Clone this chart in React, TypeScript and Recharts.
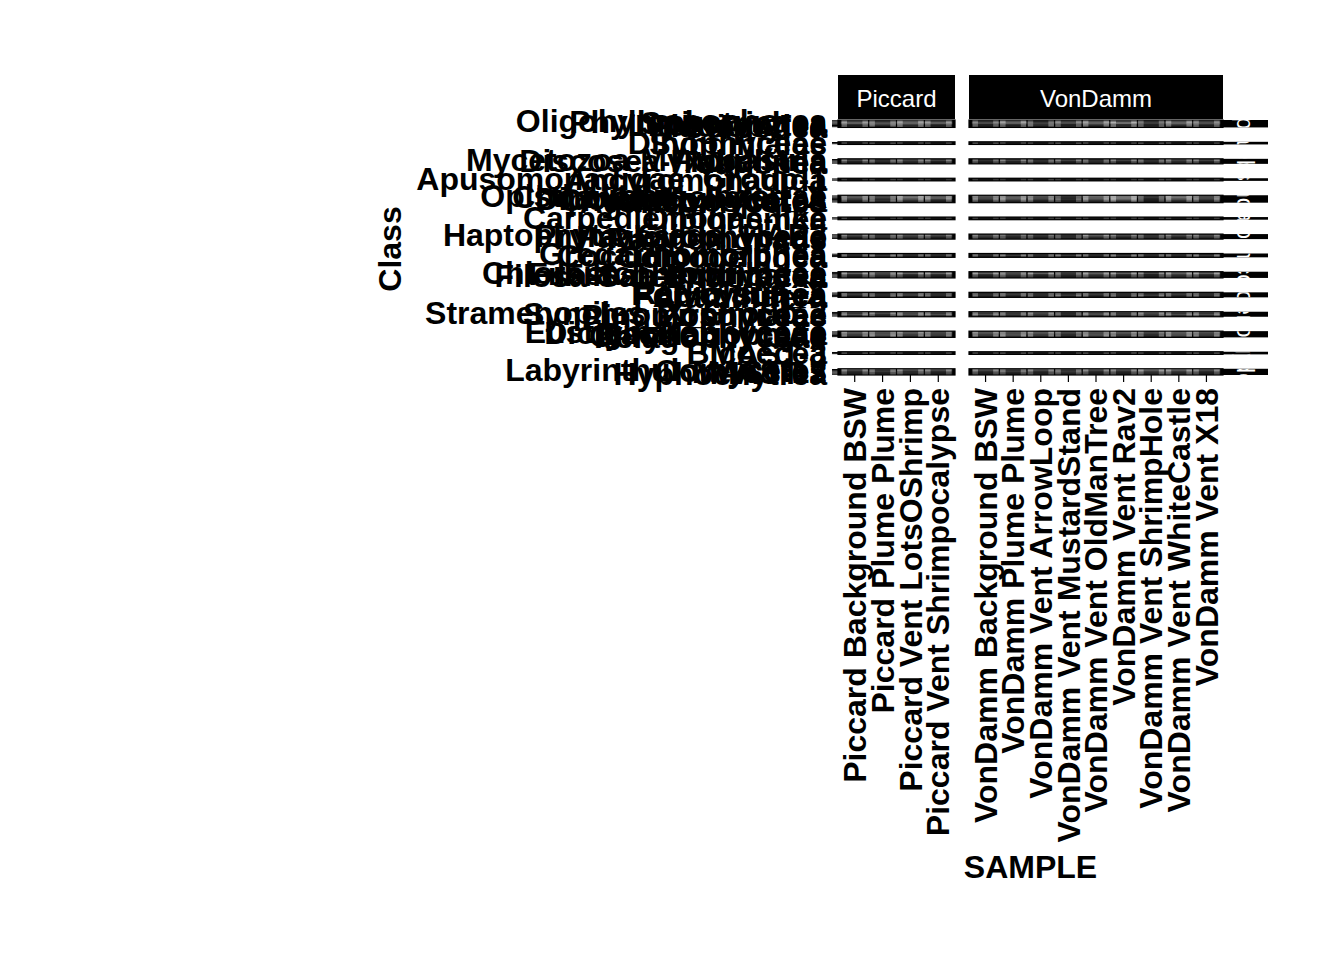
import React from "react";
import { ScatterChart, Scatter, XAxis, YAxis, ReferenceArea } from "recharts";

// facet rows (right strip labels) and the classes inside each of them
const SUPERGROUPS = [
  "Ciliophora",
  "Dinoflagellata",
  "Amoebozoa",
  "Apusozoa",
  "Opisthokonta",
  "Excavata",
  "Haptophyta",
  "Apicomplexa",
  "Cercozoa",
  "Radiolaria",
  "Stramenopiles",
  "Ochrophyta",
  "Bigyra",
  "Pseudofungi",
];

const CLASSES: string[][] = [
  ["Oligohymenophorea", "Phyllopharyngea", "Spirotrichea", "Litostomatea", "Plagiopylea", "Colpodea"],
  ["Dinophyceae", "Syndiniales"],
  ["Mycetozoa-Myxogastria", "Discosea-Flabellinia", "Tubulinea", "Variosea"],
  ["Apusomonadidae_Group-1", "Ancyromonadida"],
  ["Opisthokonta_Incertae", "Choanoflagellatea_X", "Dipodascomycetes", "Chytridiomycetes", "Ichthyosporea", "Agaricomycetes"],
  ["Carpediemonas-like", "Diplonemea"],
  ["Haptophyta_Clade_HAP3", "Prymnesiophyceae", "Pavlovophyceae", "Rappemonads"],
  ["Gregarinomorphea", "Coccidiomorphea", "Colpodellidea"],
  ["Chlorarachniophyceae", "Filosa-Thecofilosea", "Filosa-Imbricatea", "Filosa-Sarcomonadea", "Endomyxa"],
  ["Radiolaria_X", "Polycystinea", "Acantharea", "Foraminifera"],
  ["Stramenopiles_X_Group-2", "Synchromophyceae", "Pirsoniales", "Pinguiophyceae"],
  ["Eustigmatophyceae", "Dictyochophyceae", "Bacillariophyta", "Chrysophyceae", "Pelagophyceae"],
  ["Bicoecea", "MAST-3"],
  ["Labyrinthulomycetes", "Oomycetes", "MAST-12", "MAST-7", "Hyphochytrea"],
];

const PICCARD_SAMPLES = [
  "Piccard Background BSW",
  "Piccard Plume Plume",
  "Piccard Vent LotsOShrimp",
  "Piccard Vent Shrimpocalypse",
];

const VONDAMM_SAMPLES = [
  "VonDamm Background BSW",
  "VonDamm Plume Plume",
  "VonDamm Vent ArrowLoop",
  "VonDamm Vent MustardStand",
  "VonDamm Vent OldManTree",
  "VonDamm Vent Rav2",
  "VonDamm Vent ShrimpHole",
  "VonDamm Vent WhiteCastle",
  "VonDamm Vent X18",
];

// relative abundance level 0-9, one row per class in CLASSES order
const PICCARD_VALUES: number[][] = [
  [7, 6, 8, 7], [5, 4, 6, 5], [8, 7, 8, 8], [4, 5, 5, 4], [2, 3, 3, 2], [3, 2, 4, 3],
  [2, 1, 2, 1], [1, 2, 1, 1],
  [4, 3, 5, 4], [5, 4, 5, 5], [3, 4, 4, 3], [2, 2, 3, 2],
  [1, 1, 2, 1], [1, 2, 1, 1],
  [6, 5, 7, 6], [7, 6, 8, 7], [5, 4, 6, 6], [4, 3, 5, 4], [3, 4, 4, 3], [2, 3, 3, 2],
  [1, 1, 2, 1], [2, 1, 1, 1],
  [5, 4, 6, 5], [6, 5, 6, 6], [3, 4, 4, 3], [2, 2, 3, 2],
  [4, 3, 4, 4], [3, 4, 3, 3], [2, 3, 2, 2],
  [5, 6, 5, 5], [6, 5, 6, 6], [4, 5, 4, 4], [3, 4, 3, 3], [2, 3, 2, 2],
  [4, 3, 4, 4], [5, 4, 5, 4], [3, 3, 4, 3], [2, 3, 2, 2],
  [5, 5, 6, 5], [4, 5, 5, 4], [6, 4, 6, 6], [3, 3, 4, 3],
  [6, 7, 6, 6], [7, 6, 7, 6], [5, 6, 5, 5], [4, 5, 4, 4], [3, 4, 3, 3],
  [1, 2, 1, 1], [2, 1, 1, 1],
  [6, 5, 6, 6], [5, 4, 5, 5], [4, 5, 4, 4], [3, 3, 4, 3], [2, 3, 2, 2],
];

const VONDAMM_VALUES: number[][] = [
  [6, 7, 5, 6, 7, 8, 5, 7, 6], [4, 6, 3, 5, 6, 5, 4, 6, 5], [7, 8, 6, 7, 8, 9, 6, 8, 7],
  [3, 4, 4, 3, 5, 4, 3, 5, 4], [2, 2, 3, 2, 3, 3, 2, 3, 2], [2, 3, 2, 3, 2, 4, 3, 2, 3],
  [1, 2, 1, 1, 2, 1, 1, 2, 1], [2, 1, 1, 2, 1, 1, 2, 1, 1],
  [3, 4, 3, 4, 3, 4, 3, 5, 4], [4, 5, 4, 5, 4, 5, 4, 5, 5], [3, 3, 4, 3, 4, 3, 4, 4, 3], [2, 3, 2, 2, 3, 2, 2, 3, 2],
  [1, 1, 1, 2, 1, 1, 1, 1, 2], [1, 1, 2, 1, 1, 1, 2, 1, 1],
  [7, 6, 7, 5, 8, 8, 4, 7, 6], [6, 7, 6, 4, 7, 8, 5, 8, 6], [5, 6, 5, 3, 6, 7, 3, 6, 5],
  [4, 5, 4, 3, 5, 6, 2, 5, 4], [3, 4, 3, 2, 4, 5, 2, 4, 3], [2, 3, 2, 2, 3, 3, 1, 3, 2],
  [1, 2, 1, 1, 1, 2, 1, 1, 1], [1, 1, 1, 2, 1, 1, 1, 2, 1],
  [5, 6, 4, 5, 6, 5, 4, 6, 5], [6, 5, 5, 4, 7, 6, 5, 6, 6], [4, 3, 3, 4, 4, 3, 4, 3, 4], [2, 3, 2, 2, 3, 2, 2, 3, 2],
  [4, 3, 4, 3, 4, 3, 4, 4, 3], [3, 4, 3, 4, 3, 4, 3, 3, 4], [2, 2, 3, 2, 2, 3, 2, 2, 3],
  [5, 6, 5, 5, 6, 5, 4, 6, 5], [6, 5, 6, 4, 6, 6, 5, 6, 6], [4, 5, 4, 4, 5, 4, 3, 5, 4],
  [3, 4, 3, 3, 4, 3, 3, 4, 3], [2, 3, 2, 2, 3, 2, 2, 3, 2],
  [3, 4, 4, 3, 4, 4, 3, 4, 4], [4, 5, 4, 4, 5, 4, 4, 5, 4], [3, 3, 3, 4, 3, 3, 4, 3, 3], [2, 2, 3, 2, 2, 3, 2, 2, 2],
  [5, 5, 6, 4, 5, 5, 6, 5, 5], [4, 4, 5, 3, 5, 4, 5, 4, 4], [6, 5, 5, 4, 6, 5, 5, 6, 6], [3, 3, 4, 2, 3, 3, 4, 3, 3],
  [6, 7, 6, 5, 7, 6, 5, 7, 7], [7, 6, 7, 6, 6, 7, 6, 7, 6], [5, 6, 5, 4, 6, 5, 4, 6, 5],
  [4, 5, 4, 3, 5, 4, 3, 5, 4], [3, 4, 3, 2, 4, 3, 2, 4, 3],
  [1, 1, 2, 1, 1, 2, 1, 1, 1], [1, 2, 1, 1, 2, 1, 1, 1, 2],
  [6, 5, 6, 5, 6, 6, 7, 7, 6], [5, 4, 5, 4, 5, 5, 6, 6, 5], [4, 5, 4, 5, 4, 4, 5, 5, 4],
  [3, 3, 3, 4, 3, 3, 4, 4, 3], [2, 2, 3, 2, 2, 2, 3, 3, 2],
];

const FONT = "'Liberation Sans', Arial, Helvetica, sans-serif";
const TOP = 120;
const PLOT_BOTTOM = 375;
const GAP = 12; // space between facet rows, in class units
const PAD = 0.1;

type Row = { name: string; k: number; top: number; mid: number };
type Panel = { group: string; start: number; end: number; rows: Row[] };

function buildPanels(): Panel[] {
  let y = 0;
  let k = 0;
  return SUPERGROUPS.map((group, i) => {
    const start = y;
    const rows = CLASSES[i].map((name, j) => ({
      name,
      k: k++,
      top: start + PAD + j,
      mid: start + PAD + j + 0.5,
    }));
    const end = start + rows.length + 2 * PAD;
    y = end + GAP;
    return { group, start, end, rows };
  });
}

const PANELS = buildPanels();
const Y_MAX = PANELS[PANELS.length - 1].end;
const ALL_ROWS = PANELS.flatMap((p) => p.rows);
const Y_TICKS = ALL_ROWS.map((r) => r.mid);
const Y_LABEL = new Map(ALL_ROWS.map((r) => [r.mid.toFixed(3), r.name]));

const gray = (g: number) => {
  const c = Math.max(0, Math.min(255, Math.round(g)));
  return `rgb(${c},${c},${c})`;
};
const fillColor = (v: number) => gray(22 + v * v * 2);
const edgeColor = (v: number) => gray(60 + v * 17);

const tileShape = (v: number) => (p: any) => {
  const { x, y, width, height } = p;
  const e = Math.min(5.5, width / 4);
  return (
    <g>
      <rect x={x} y={y} width={width} height={height} fill={fillColor(v)} />
      <rect x={x + 0.7} y={y} width={e} height={height} fill={edgeColor(v)} />
      <rect x={x + width - 0.7 - e} y={y} width={e} height={height} fill={edgeColor(v)} />
      <line x1={x} x2={x} y1={y} y2={y + height} stroke="#000" strokeWidth={1} />
    </g>
  );
};

const bgShape = (p: any) => <rect x={p.x} y={p.y} width={p.width} height={p.height} fill="#000" />;
const outlineShape = (p: any) => (
  <rect x={p.x} y={p.y} width={p.width} height={p.height} fill="none" stroke="#000" strokeWidth={1.2} />
);

const stripShape = (label: string, id: string) => (p: any) => {
  const { x, y, width, height } = p;
  const cx = x + width / 2;
  const cy = y + height / 2;
  return (
    <g>
      <defs>
        <clipPath id={id}>
          <rect x={x} y={y} width={width} height={height} />
        </clipPath>
      </defs>
      <rect x={x} y={y} width={width} height={height} fill="#000" />
      <g clipPath={`url(#${id})`}>
        <text
          x={cx}
          y={cy}
          transform={`rotate(90 ${cx} ${cy})`}
          textAnchor="middle"
          dy="0.35em"
          fill="#fff"
          fontSize={23}
          fontFamily={FONT}
        >
          {label}
        </text>
      </g>
    </g>
  );
};

const XTick = (props: any) => {
  const { x, y, payload, labels } = props;
  const label = labels[Math.round(payload.value) - 1];
  return (
    <text
      x={x}
      y={y}
      transform={`rotate(-90 ${x} ${y})`}
      textAnchor="end"
      dy="0.35em"
      fontSize={32}
      fontWeight={700}
      fontFamily={FONT}
      fill="#000"
    >
      {label}
    </text>
  );
};

const YTick = (props: any) => {
  const { x, y, payload } = props;
  return (
    <text x={x} y={y} textAnchor="end" dy="0.35em" fontSize={32} fontWeight={700} fontFamily={FONT} fill="#000">
      {Y_LABEL.get(Number(payload.value).toFixed(3))}
    </text>
  );
};

type FacetProps = {
  id: string;
  samples: string[];
  values: number[][];
  width: number;
  left: number;
  right: number;
  showY: boolean;
  stripRight?: number;
};

function Facet({ id, samples, values, width, left, right, showY, stripRight }: FacetProps) {
  const xMax = samples.length + 0.6;
  const plotRight = width - right;
  const pxPerUnit = (plotRight - left) / (xMax - 0.4);
  const cells = ALL_ROWS.flatMap((r) =>
    samples.map((_, si) => ({ x: si + 1, y: r.mid, v: values[r.k][si] }))
  );

  return (
    <ScatterChart
      width={width}
      height={960}
      margin={{ top: TOP, right, bottom: 0, left: showY ? 0 : left }}
      style={{ position: "absolute", left: 0, top: 0 }}
    >
      <XAxis
        type="number"
        dataKey="x"
        domain={[0.4, xMax]}
        ticks={samples.map((_, i) => i + 1)}
        interval={0}
        allowDataOverflow
        height={960 - PLOT_BOTTOM}
        tickSize={7}
        tickMargin={6}
        axisLine={false}
        tickLine={{ stroke: "#000", strokeWidth: 1.2 }}
        tick={(p: any) => <XTick {...p} labels={samples} />}
      />
      <YAxis
        type="number"
        dataKey="y"
        domain={[0, Y_MAX]}
        reversed
        allowDataOverflow
        hide={!showY}
        width={left}
        ticks={Y_TICKS}
        interval={0}
        tickSize={6}
        tickMargin={5}
        axisLine={false}
        tickLine={{ stroke: "#000", strokeWidth: 1 }}
        tick={(p: any) => <YTick {...p} />}
      />
      {PANELS.map((p, i) => (
        <ReferenceArea
          key={`bg-${i}`}
          x1={0.4}
          x2={xMax}
          y1={p.start}
          y2={p.end}
          ifOverflow="visible"
          shape={bgShape}
        />
      ))}
      {cells.map((c, i) => (
        <ReferenceArea
          key={`t-${i}`}
          x1={c.x - 0.5}
          x2={c.x + 0.5}
          y1={c.y - 0.5}
          y2={c.y + 0.5}
          ifOverflow="visible"
          shape={tileShape(c.v)}
        />
      ))}
      {PANELS.map((p, i) => (
        <ReferenceArea
          key={`o-${i}`}
          x1={0.4}
          x2={xMax}
          y1={p.start}
          y2={p.end}
          ifOverflow="visible"
          shape={outlineShape}
        />
      ))}
      {stripRight !== undefined &&
        PANELS.map((p, i) => (
          <ReferenceArea
            key={`s-${i}`}
            x1={xMax}
            x2={xMax + (stripRight - plotRight) / pxPerUnit}
            y1={p.start}
            y2={p.end}
            ifOverflow="visible"
            shape={stripShape(p.group, `${id}-strip-${i}`)}
          />
        ))}
      <Scatter data={cells} shape={() => <g />} isAnimationActive={false} />
    </ScatterChart>
  );
}

const stripStyle: React.CSSProperties = {
  position: "absolute",
  top: 75,
  height: 44,
  paddingTop: 3,
  boxSizing: "border-box",
  background: "#000",
  color: "#fff",
  fontSize: 24,
  fontFamily: FONT,
  display: "flex",
  alignItems: "center",
  justifyContent: "center",
};

export default function App() {
  return (
    <div style={{ position: "relative", width: 1344, height: 960, background: "#fff", fontFamily: FONT }}>
      <style>{"body{margin:0}"}</style>
      <Facet id="pic" samples={PICCARD_SAMPLES} values={PICCARD_VALUES} width={960} left={838} right={5} showY />
      <Facet
        id="vd"
        samples={VONDAMM_SAMPLES}
        values={VONDAMM_VALUES}
        width={1344}
        left={969}
        right={1344 - 1223}
        showY={false}
        stripRight={1268}
      />
      <div style={{ ...stripStyle, left: 838, width: 117 }}>Piccard</div>
      <div style={{ ...stripStyle, left: 969, width: 254 }}>VonDamm</div>
      <div
        style={{
          position: "absolute",
          left: 838,
          width: 385,
          top: 848,
          textAlign: "center",
          fontSize: 32,
          fontWeight: 700,
          lineHeight: "38px",
        }}
      >
        SAMPLE
      </div>
      <div
        style={{
          position: "absolute",
          left: 390,
          top: 249,
          transform: "translate(-50%, -50%) rotate(-90deg)",
          fontSize: 32,
          fontWeight: 700,
          lineHeight: "38px",
          whiteSpace: "nowrap",
        }}
      >
        Class
      </div>
    </div>
  );
}
